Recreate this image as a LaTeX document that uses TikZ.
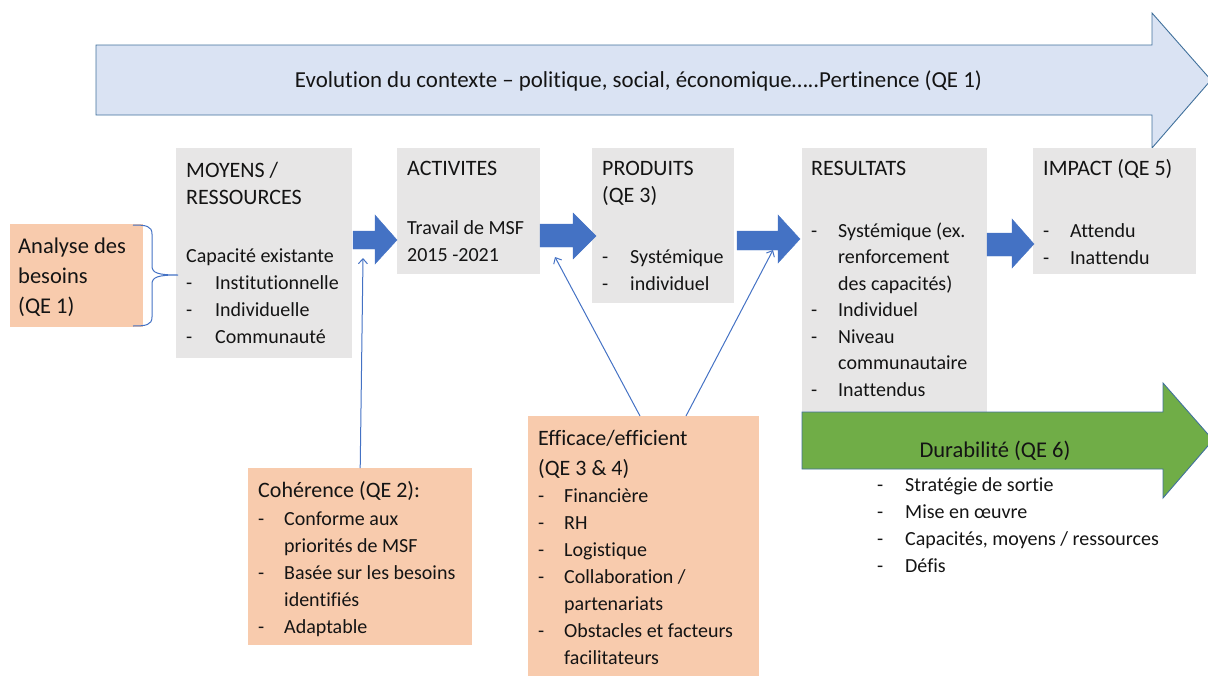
\documentclass[tikz,border=0pt]{standalone}
\usepackage{fontspec}
\setmainfont{Carlito}[Ligatures=NoCommon]
\usetikzlibrary{arrows.meta}
\definecolor{boxgray}{HTML}{E7E6E6}
\definecolor{boxorange}{HTML}{F8CBAD}
\definecolor{ctxblue}{HTML}{DAE3F3}
\definecolor{edgeblue}{HTML}{41719C}
\definecolor{mainblue}{HTML}{4472C4}
\definecolor{durgreen}{HTML}{70AD47}
\definecolor{txt}{HTML}{141414}
\newcommand\dsh[1]{\makebox[#1][l]{-}}
\newcommand\hng[1]{\hspace*{#1}}
\newcommand\hd{\fontsize{22}{27}\selectfont}
\newcommand\bx[5]{\parbox[t][#1][t]{#2}{\leftskip=#3\relax\rule{0pt}{#4}#5}}
\tikzset{
  panel/.style={anchor=north west, inner sep=0pt, text=txt, font=\fontsize{20}{27}\selectfont},
  graybox/.style={panel, fill=boxgray},
  orangebox/.style={panel, fill=boxorange},
  blockarrow/.style={fill=mainblue, draw=mainblue, line width=0.4pt, line join=miter},
  bigarrow/.style={draw=edgeblue, line width=0.9pt, line join=miter},
  thinlink/.style={draw=mainblue, line width=1pt, -{Straight Barb[length=5pt,width=9pt,line width=1pt]}},
  plain/.style={inner sep=0pt, text=txt},
}
\begin{document}
\begin{tikzpicture}[x=1pt,y=-1pt]
\useasboundingbox (0,0) rectangle (1208,675);
\clip (0,0) rectangle (1208,675);

% context arrow
\path[bigarrow, fill=ctxblue] (96,45) -- (1152,45) -- (1152,13) -- (1211,80) -- (1152,148) -- (1152,115) -- (96,115) -- cycle;
\node[plain, anchor=base, font=\fontsize{22.9}{27}\selectfont] (ctx) at (638.5,87)
  {Evolution du contexte – politique, social, économique…..Pertinence (QE 1)};

% gray boxes
\node[graybox] (moy) at (176,148) {\bx{210pt}{176pt}{10pt}{29pt}{%
  {\hd MOYENS /}\\ {\hd RESSOURCES}\\[31pt]Capacité existante\\
  \dsh{29pt}Institutionnelle\\ \dsh{29pt}Individuelle\\ \dsh{29pt}Communauté}};
\node[graybox] (act) at (397,148) {\bx{126pt}{143pt}{10pt}{27pt}{%
  {\hd ACTIVITES}\\[32pt]Travail de MSF\\ 2015 -2021}};
\node[graybox] (prod) at (592,148) {\bx{155pt}{142pt}{10pt}{27pt}{%
  {\hd PRODUITS}\\ {\hd (QE 3)}\\[34pt]\dsh{28pt}Systémique\\ \dsh{28pt}individuel}};
\node[graybox, font=\fontsize{20}{26.5}\selectfont] (res) at (802,148) {\bx{270pt}{185pt}{9pt}{27pt}{%
  {\hd RESULTATS}\\[35.5pt]\dsh{27pt}Systémique (ex.\\ \hng{27pt}renforcement\\
  \hng{27pt}des capacités)\\ \dsh{27pt}Individuel\\ \dsh{27pt}Niveau\\
  \hng{27pt}communautaire\\ \dsh{27pt}Inattendus}};
\node[graybox] (imp) at (1033,148) {\bx{126pt}{163pt}{10pt}{27pt}{%
  {\hd IMPACT (QE 5)}\\[35pt]\dsh{27pt}Attendu\\ \dsh{27pt}Inattendu}};

% orange boxes
\node[orangebox, font=\fontsize{22.5}{30}\selectfont] (ana) at (10,224) {\bx{103pt}{133pt}{8pt}{29pt}{%
  Analyse des\\ besoins\\ (QE 1)}};
\node[orangebox] (coh) at (248,468) {\bx{177pt}{224pt}{10pt}{29pt}{%
  {\hd Cohérence (QE 2):}\\[1pt]\dsh{26pt}Conforme aux\\ \hng{26pt}priorités de MSF\\
  \dsh{26pt}Basée sur les besoins\\ \hng{26pt}identifiés\\ \dsh{26pt}Adaptable}};
\node[orangebox] (eff) at (528,416) {\bx{270pt}{231pt}{10pt}{29pt}{%
  {\hd Efficace/efficient}\\[3pt]{\hd (QE 3 \& 4)}\\ \dsh{26pt}Financière\\ \dsh{26pt}RH\\
  \dsh{26pt}Logistique\\ \dsh{26pt}Collaboration /\\ \hng{26pt}partenariats\\
  \dsh{26pt}Obstacles et facteurs\\ \hng{26pt}facilitateurs}};

% brace next to the needs analysis
\draw[draw=mainblue, line width=1pt] (133,225) .. controls (146,225) and (152,226) .. (152,234)
  -- (152,266) .. controls (152,273) and (158,275) .. (178,275)
  .. controls (158,275) and (152,277) .. (152,284)
  -- (152,317) .. controls (152,325) and (146,326) .. (133,326);

% block arrows between boxes
\path[blockarrow] (353,231) -- (375,231) -- (375,215) -- (397,240) -- (375,264) -- (375,249) -- (353,249) -- cycle;
\path[blockarrow] (540,224) -- (573,224) -- (573,213) -- (596,236) -- (573,259) -- (573,247) -- (540,247) -- cycle;
\path[blockarrow] (737,231) -- (778,231) -- (778,215) -- (800,239) -- (778,263) -- (778,250) -- (737,250) -- cycle;
\path[blockarrow] (987,233) -- (1012,233) -- (1012,219) -- (1034,244) -- (1012,268) -- (1012,256) -- (987,256) -- cycle;

% sustainability arrow
\path[bigarrow, fill=durgreen] (802,412) -- (1163,412) -- (1163,383) -- (1213,440) -- (1163,498) -- (1163,469) -- (802,469) -- cycle;
\node[plain, anchor=base, font=\fontsize{22.5}{27}\selectfont] (dur) at (995,457) {Durabilité (QE 6)};
\node[plain, anchor=base west, font=\fontsize{20}{27}\selectfont] (durl) at (877,491) {\parbox[t]{320pt}{%
  \dsh{28pt}Stratégie de sortie\\ \dsh{28pt}Mise en œuvre\\
  \dsh{28pt}Capacités, moyens / ressources\\ \dsh{28pt}Défis}};

% thin connectors
\coordinate (cohTip) at (363,258);
\path (eff.north west) ++(112,0) coordinate (effL);
\path (eff.north west) ++(158,0) coordinate (effR);
\coordinate (effTipL) at (555,257);
\coordinate (effTipR) at (773,250);
\draw[thinlink] (coh.north) -- (cohTip);
\draw[thinlink] (effL) -- (effTipL);
\draw[thinlink] (effR) -- (effTipR);
\end{tikzpicture}
\end{document}
